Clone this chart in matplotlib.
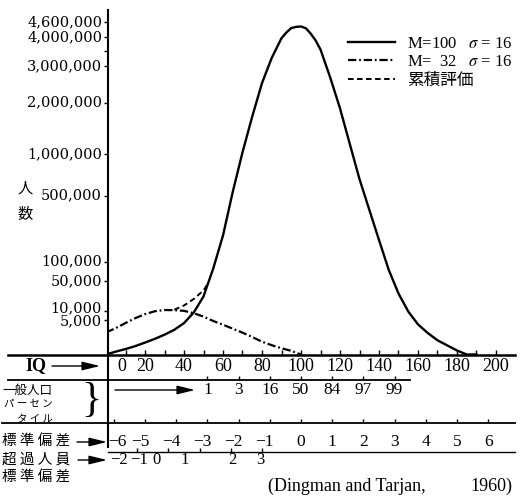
import numpy as np
import matplotlib
matplotlib.use("Agg")
import matplotlib.pyplot as plt
from matplotlib import transforms
from matplotlib.lines import Line2D

plt.rcParams["mathtext.fontset"] = "stix"
plt.rcParams["lines.scale_dashes"] = False

# ---------------- data ----------------
iq_main = [0, 5, 10, 15, 20, 25, 30, 35, 40, 45, 50, 55, 60, 65, 70, 75, 80, 85, 90,
           92.5, 95, 97.5, 100, 102.5, 105, 107.5, 110, 115, 120, 125, 130, 135, 140,
           145, 150, 155, 160, 165, 170, 175, 180, 185, 190]
count_main = [0, 3, 20, 74, 211, 475, 970, 1880, 3870, 9260, 24400, 79500, 210600,
              537400, 1033000, 1685000, 2499000, 3262000, 3956000, 4173000, 4347000,
              4395000, 4411000, 4339000, 4127000, 3870000, 3546000, 2654000, 1865000,
              1169000, 674500, 380300, 187600, 75700, 28370, 9940, 3410, 1240, 358, 94,
              8, 0, 0]

iq_low = [0, 5, 10, 15, 20, 25, 30, 35, 40, 45, 50, 55, 60, 65, 70, 75, 80, 85, 90, 95, 100]
count_low = [1330, 2300, 3900, 6000, 8200, 10100, 11000, 10900, 10400, 8800, 6800, 4700,
             3300, 2150, 1300, 670, 260, 100, 30, 6, 0]

iq_cum = [35, 40, 45, 50, 52.5]
count_cum = [11200, 14700, 21400, 32800, 46000]

ytick_values = [5000, 10000, 50000, 100000, 500000, 1000000, 2000000, 3000000, 4000000, 4600000]
ytick_labels = ["5,000", "10,000", "50,000", "100,000", "500,000", "1,000,000",
                "2,000,000", "3,000,000", "4,000,000", "4,600,000"]
ytick_minor = [3500000]

iq_tick_labels = [0, 20, 40, 60, 80, 100, 120, 140, 160, 180, 200]
iq_minor_ticks = [10, 20, 30, 40, 50, 60, 70, 80, 90, 100, 110, 120, 130, 140, 150,
                  160, 170, 180, 190, 200]

main_mean, main_sd = 100, 16
low_mean, low_sd = 32, 16
sd_values = [-6, -5, -4, -3, -2, -1, 0, 1, 2, 3, 4, 5, 6]
percentile_sd = [-3, -2, -1, 0, 1, 2, 3]
percentile_labels = ["1", "3", "16", "50", "84", "97", "99"]
excess_sd = [-2, -1, 0, 1, 2, 3]
excess_label_iq = [6.7, 16.9, 26, 40.5, 64.6, 79]

legend_labels = ["M=100   $\\sigma$ = 16", "M=  32   $\\sigma$ = 16", "累積評価"]

SERIF = ["Liberation Serif", "Noto Sans CJK JP"]
CJK = ["Noto Sans CJK JP", "DejaVu Sans"]

# ---------------- figure ----------------
W, H = 524, 498
fig = plt.figure(figsize=(W / 100, H / 100), dpi=100)


def fx(x):
    return x / W


def fy(y):
    return 1 - y / H


ax = fig.add_axes([fx(108), fy(354.5), (515 - 108) / W, (354.5 - 10) / H])
ax.set_yscale("function", functions=(np.cbrt, lambda v: np.power(v, 3)))

ax.plot(iq_main, count_main, color="k", lw=1.7, label=legend_labels[0])
ax.plot(iq_low, count_low, color="k", lw=1.6, linestyle=(0, (6, 2, 1.3, 2)),
        label=legend_labels[1])
ax.plot(iq_cum, count_cum, color="k", lw=1.4, linestyle=(0, (4, 2.5)),
        label=legend_labels[2])

for s in ["top", "right", "bottom"]:
    ax.spines[s].set_visible(False)
ax.spines["left"].set_linewidth(1.5)

ax.set_xticks(iq_minor_ticks)
ax.tick_params(axis="x", direction="in", length=3.5, width=1, labelbottom=False)
ax.set_yticks(ytick_values)
ax.set_yticks(ytick_minor, minor=True)
ax.tick_params(axis="y", which="both", direction="out", length=3, width=1,
               labelleft=False)

ax.set_xlim((108 - 106) / 1.95, (515 - 106) / 1.95)
ax.set_ylim(0, 5.11e6)

# y tick labels (10,000 nudged up a little so it clears 5,000, as in the print)
ytr = transforms.blended_transform_factory(ax.transAxes, ax.transData)
for v, lab in zip(ytick_values, ytick_labels):
    nudge = 3 if v == 10000 else (-1 if v == 5000 else 0)
    tr = ytr + transforms.ScaledTranslation(-6 / 100, nudge / 100, fig.dpi_scale_trans)
    ax.text(0, v, lab, transform=tr, ha="right", va="center", size=10.5,
            family="DejaVu Serif")

leg = ax.legend(loc="upper left", bbox_to_anchor=(fx(348), fy(35.5)),
                bbox_transform=fig.transFigure, frameon=False, handlelength=2.8,
                handletextpad=0.75, labelspacing=0.17, borderpad=0, borderaxespad=0,
                prop={"family": SERIF, "size": 12})

# ---------------- table below the chart ----------------
def hline(y, x0, x1, lw=1.3):
    fig.add_artist(Line2D([fx(x0), fx(x1)], [fy(y), fy(y)], transform=fig.transFigure,
                          color="k", lw=lw))


hline(354.5, 8, 515, 1.8)
hline(380, 8, 410, 1.3)
hline(423, 2, 515, 1.3)
hline(452, 108, 515, 1.0)
fig.add_artist(Line2D([fx(108), fx(108)], [fy(354.5), fy(447)], transform=fig.transFigure,
                      color="k", lw=1.5))

bt = transforms.blended_transform_factory(ax.transData, fig.transFigure)


def table_ticks(iqs, y, h=4):
    ax.vlines(iqs, fy(y), fy(y - h), transform=bt, colors="k", lw=1, clip_on=False)


def label_at(iq, y, s, dx=0, ha="center", size=12.5, **kw):
    tr = bt + transforms.ScaledTranslation(dx / 100, 0, fig.dpi_scale_trans)
    ax.text(iq, fy(y), s, transform=tr, ha=ha, va="center", size=size,
            family=SERIF, **kw)


def arrow(x0, x1, y):
    ax.annotate("", xy=(fx(x1), fy(y)), xytext=(fx(x0), fy(y)),
                xycoords=fig.transFigure, textcoords=fig.transFigure,
                arrowprops=dict(arrowstyle="-|>,head_length=0.9,head_width=0.22",
                                color="k", lw=1.0, shrinkA=0, shrinkB=0,
                                mutation_scale=12),
                annotation_clip=False)


def ftext(x, y, s, ha="left", size=10, family=CJK, **kw):
    fig.text(fx(x), fy(y), s, ha=ha, va="center", size=size, family=family, **kw)


# IQ row
ftext(25, 366, "IQ", size=13, family=SERIF, weight="bold")
arrow(52, 100, 366)
for v in iq_tick_labels:
    if v == 0:
        label_at(v, 366, str(v), dx=16, size=13)
    else:
        label_at(v, 366, str(v), size=13)

# percentile row
table_ticks([main_mean + main_sd * s for s in percentile_sd], 380)
ftext(2, 390, "一般人口", size=9)
ftext(53, 404, "パ ー セ ン", ha="right", size=7.5)
ftext(53, 418, "タ イ ル", ha="right", size=7.5)
ftext(91, 401, "}", ha="center", size=30, family=SERIF)
arrow(115, 195, 390)
for s, lab in zip(percentile_sd, percentile_labels):
    label_at(main_mean + main_sd * s, 390, lab)

# standard deviation row
table_ticks([main_mean + main_sd * s for s in sd_values], 423)
ftext(2, 442, "標 準 偏 差", size=10.5)
arrow(77, 107, 442)
for s in sd_values:
    iq = main_mean + main_sd * s
    if s < 0:
        label_at(iq, 442, "\u2212" + str(-s), dx=4 + (9 if s == -6 else 0), ha="right")
    else:
        label_at(iq, 442, str(s))

# excess row
table_ticks([low_mean + low_sd * s for s in excess_sd if s >= -1], 452)
ftext(2, 460, "超 過 人 員", size=10.5)
ftext(2, 478, "標 準 偏 差", size=10.5)
arrow(78, 107, 460)
for s, iq in zip(excess_sd, excess_label_iq):
    lab = ("\u2212" + str(-s)) if s < 0 else str(s)
    label_at(iq, 460, lab, size=12)

# axis title and source
ftext(25, 188, "人", ha="center", size=11)
ftext(25, 214, "数", ha="center", size=11)
ftext(268, 486, "(Dingman and Tarjan,", size=13, family=SERIF)
ftext(512, 486, "1960)", ha="right", size=13, family=SERIF)

fig.savefig("out.png", dpi=100)
